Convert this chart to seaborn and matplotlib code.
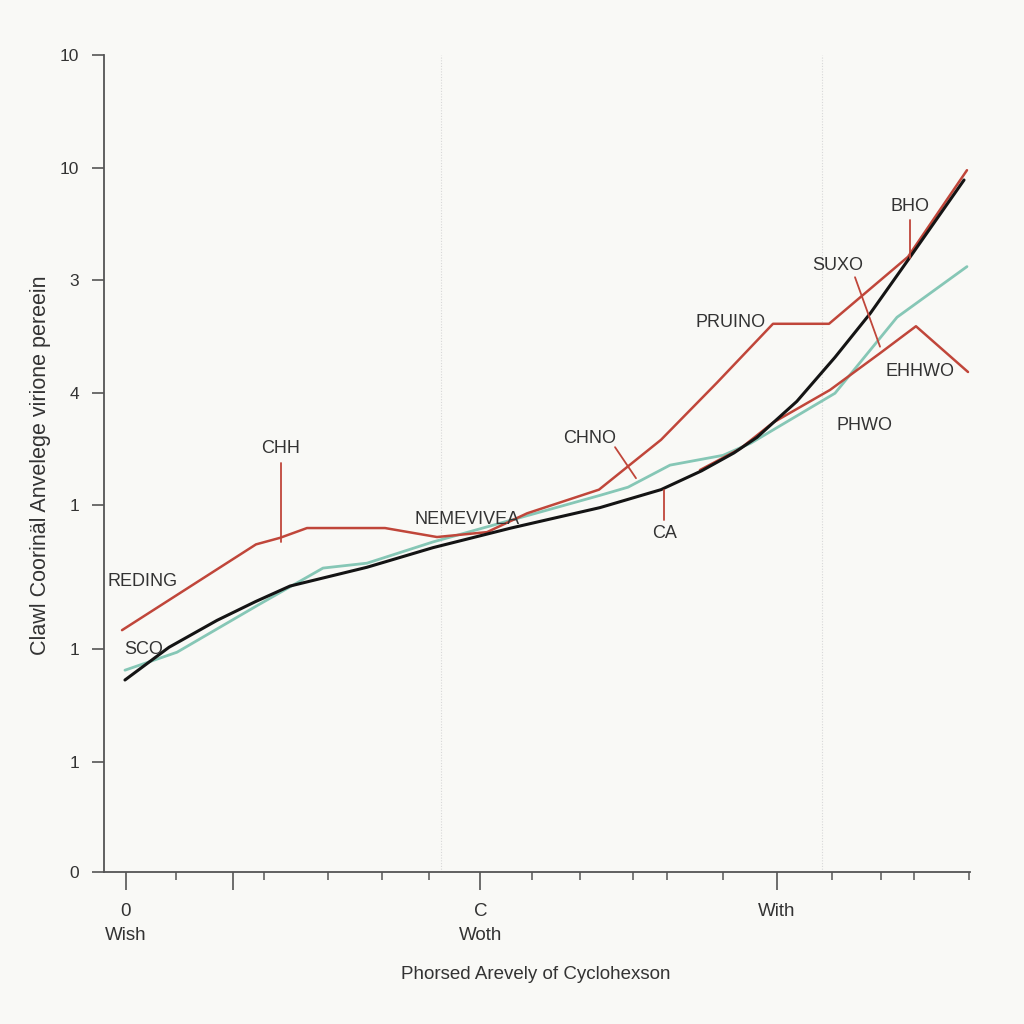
import matplotlib
matplotlib.use("Agg")
import matplotlib.pyplot as plt
import seaborn as sns
import numpy as np

# ---------------- data ----------------
red_x = [2.08, 17.55, 20.32, 23.44, 32.45, 38.45, 44.23, 48.85, 57.16, 64.32, 70.79, 77.25, 83.72, 92.84, 99.65]
red_y = [2.96, 4.01, 4.09, 4.21, 4.21, 4.10, 4.16, 4.39, 4.68, 5.29, 5.99, 6.71, 6.71, 7.53, 8.59]

red2_x = [68.82, 73.44, 77.25, 83.83, 89.61, 93.76, 99.77]
red2_y = [4.92, 5.18, 5.50, 5.90, 6.35, 6.68, 6.12]

teal_x = [2.42, 8.43, 17.67, 25.29, 30.37, 37.99, 57.27, 60.51, 65.36, 71.48, 74.71, 77.25, 84.41, 91.57, 99.65]
teal_y = [2.47, 2.69, 3.26, 3.72, 3.78, 4.04, 4.61, 4.71, 4.98, 5.10, 5.25, 5.41, 5.86, 6.79, 7.41]

black_x = [2.42, 7.5, 13.05, 17.5, 21.48, 30.37, 37.99, 47.0, 57.27, 64.32, 69.0, 72.75, 75.40, 80.0, 84.41, 88.5, 92.84, 99.31]
black_y = [2.35, 2.75, 3.08, 3.31, 3.50, 3.73, 3.97, 4.21, 4.46, 4.68, 4.91, 5.13, 5.32, 5.76, 6.30, 6.84, 7.49, 8.47]

ytick_pos = [0, 1.35, 2.73, 4.49, 5.86, 7.25, 8.62, 10]
ytick_labels = ["0", "1", "1", "1", "4", "3", "10", "10"]

xtick_major = [2.49, 14.95, 43.46, 77.71]
xtick_major_labels = ["0\nWish", "", "C\nWoth", "With"]
xtick_minor = [8.31, 18.48, 25.87, 32.06, 37.49, 49.42, 54.93, 61.03, 65.01, 71.48, 84.06, 89.72, 93.53, 99.94]

grid_x = [38.9, 82.9]

# annotations: text, text x, text y
ann_text = ["CHH", "NEMEVIVEA", "CHNO", "CA", "PRUINO", "SUXO", "BHO", "EHHWO", "PHWO", "REDING", "SCO"]
ann_x = [20.44, 41.92, 56.12, 64.78, 72.40, 84.76, 93.07, 94.23, 87.76, 4.50, 4.62]
ann_y = [5.18, 4.31, 5.31, 4.14, 6.73, 7.42, 8.14, 6.12, 5.47, 3.55, 2.72]

# leader lines: (x0, y0, x1, y1)
lead_x0 = [20.44, 59.01, 64.67, 86.72, 93.07]
lead_y0 = [5.01, 5.20, 4.68, 7.28, 7.98]
lead_x1 = [20.44, 61.43, 64.67, 89.61, 93.07]
lead_y1 = [4.04, 4.82, 4.31, 6.43, 7.52]

x_label = "Phorsed Arevely of Cyclohexson"
y_label = "Clawl Coorinäl Anvelege virione pereein"

# ---------------- style ----------------
RED = "#c0463a"
TEAL = "#86c7b6"
BLACK = "#141414"
TXT = "#333333"
BG = "#f9f9f6"

sns.set_style("white")
plt.rcParams["font.family"] = ["Liberation Sans", "DejaVu Sans"]

fig = plt.figure(figsize=(10.24, 10.24), dpi=100, facecolor=BG)
ax = fig.add_axes([104 / 1024, 1 - 872 / 1024, 866 / 1024, 817 / 1024])
ax.set_facecolor(BG)

for gx in grid_x:
    ax.axvline(gx, color="#d8d8d8", lw=0.8, ls=(0, (1, 1.5)), zorder=0)

sns.lineplot(x=teal_x, y=teal_y, ax=ax, color=TEAL, lw=2.0, sort=False, zorder=2)
sns.lineplot(x=red2_x, y=red2_y, ax=ax, color=RED, lw=1.8, sort=False, zorder=3)
sns.lineplot(x=red_x, y=red_y, ax=ax, color=RED, lw=1.8, sort=False, zorder=3)
sns.lineplot(x=black_x, y=black_y, ax=ax, color=BLACK, lw=2.2, sort=False, zorder=4)

for x0, y0, x1, y1 in zip(lead_x0, lead_y0, lead_x1, lead_y1):
    ax.plot([x0, x1], [y0, y1], color=RED, lw=1.3, zorder=5)

for t, tx, ty in zip(ann_text, ann_x, ann_y):
    ax.text(tx, ty, t, color=TXT, fontsize=13, ha="center", va="center", zorder=6)

ax.set_xlim(0, 100)
ax.set_ylim(0, 10)

for s in ["top", "right"]:
    ax.spines[s].set_visible(False)
for s in ["left", "bottom"]:
    ax.spines[s].set_color("#555555")
    ax.spines[s].set_linewidth(1.3)

ax.set_yticks(ytick_pos)
ax.set_yticklabels(ytick_labels)
ax.tick_params(axis="y", length=9, width=1.2, color="#555555", pad=9,
               labelsize=12.5, labelcolor=TXT, left=True)

ax.set_xticks(xtick_major)
ax.set_xticklabels(xtick_major_labels, linespacing=1.6)
ax.set_xticks(xtick_minor, minor=True)
ax.tick_params(axis="x", which="major", length=13, width=1.2, color="#555555",
               pad=9, labelsize=13.5, labelcolor=TXT, bottom=True)
ax.tick_params(axis="x", which="minor", length=6, width=1.1, color="#555555", bottom=True)
for lab in ax.get_xticklabels():
    lab.set_verticalalignment("top")

ax.set_xlabel(x_label, fontsize=13.5, color=TXT)
ax.set_ylabel(y_label, fontsize=15.5, color=TXT)
ax.xaxis.set_label_coords(0.498, -0.115)
ax.yaxis.set_label_coords(-0.061, 0.498)

fig.savefig("out.png", dpi=100, facecolor=BG)
